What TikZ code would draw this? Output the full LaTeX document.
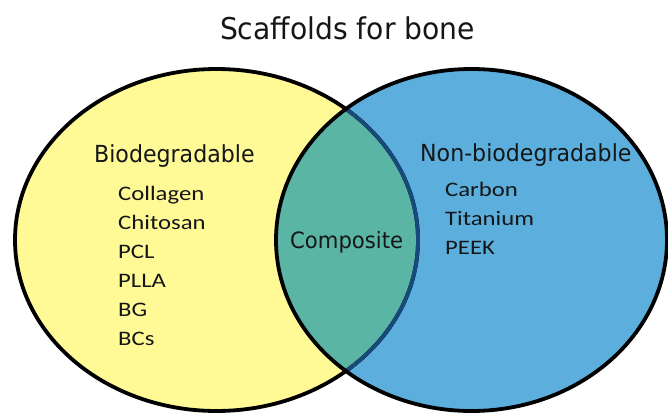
\documentclass[tikz,border=0pt]{standalone}
\usepackage{fontspec}
\newfontfamily\hfont[FakeStretch=0.94]{DejaVu Sans}
\newfontfamily\ifont[FakeStretch=1.2]{Carlito}
\definecolor{yel}{RGB}{255,249,150}
\definecolor{blu}{RGB}{92,175,221}
\definecolor{tealmix}{RGB}{91,181,164}
\definecolor{navyline}{RGB}{23,73,122}
\definecolor{ink}{RGB}{20,22,24}
\tikzset{
  setshape/.style={x radius=#1, y radius=171pt},
  outline/.style={line width=3.8pt},
  txt/.style={inner sep=0pt, text=ink},
  title/.style={txt, anchor=base, font=\hfont\fontsize{30}{36}\selectfont},
  head/.style={txt, anchor=base west, font=\hfont\fontsize{23.5}{28}\selectfont},
  comp/.style={txt, anchor=base west, font=\hfont\fontsize{22.5}{27}\selectfont},
  item/.style={txt, anchor=base west, font=\ifont\fontsize{20.6}{24}\selectfont}
}
\begin{document}
\begin{tikzpicture}[x=1pt,y=-1pt]
\useasboundingbox (0,0) rectangle (668,417);
\fill[white] (0,0) rectangle (668,417);
\coordinate (L) at (216.5,240);
\coordinate (R) at (471.5,240);
% fills
\fill[yel] (L) ellipse [setshape=201.5pt];
\fill[blu] (R) ellipse [setshape=195.5pt];
\begin{scope}
  \clip (L) ellipse [setshape=201.5pt];
  \fill[tealmix] (R) ellipse [setshape=195.5pt];
\end{scope}
% outlines
\draw[outline, black] (L) ellipse [setshape=201.5pt];
\begin{scope}
  \clip (R) ellipse [setshape=195.5pt];
  \draw[outline, navyline] (L) ellipse [setshape=201.5pt];
\end{scope}
\draw[outline, black] (R) ellipse [setshape=195.5pt];
% texts
\node[title] (ttl) at (347.5,40) {Scaffolds for bone};
\node[head] (bio) at (94,162) {Biodegradable};
\node[head] (nonbio) at (420,161) {Non-biodegradable};
\node[comp] (composite) at (290,248) {Composite};
\node[item] (collagen) at (118,200) {Collagen};
\node[item] (chitosan) at (118,229) {Chitosan};
\node[item] (pcl) at (118,258) {PCL};
\node[item] (plla) at (118,287) {PLLA};
\node[item] (bg) at (118,316) {BG};
\node[item] (bcs) at (118,345) {BCs};
\node[item] (carbon) at (445,196) {Carbon};
\node[item] (titanium) at (445,225) {Titanium};
\node[item] (peek) at (445,254) {PEEK};
\end{tikzpicture}
\end{document}
